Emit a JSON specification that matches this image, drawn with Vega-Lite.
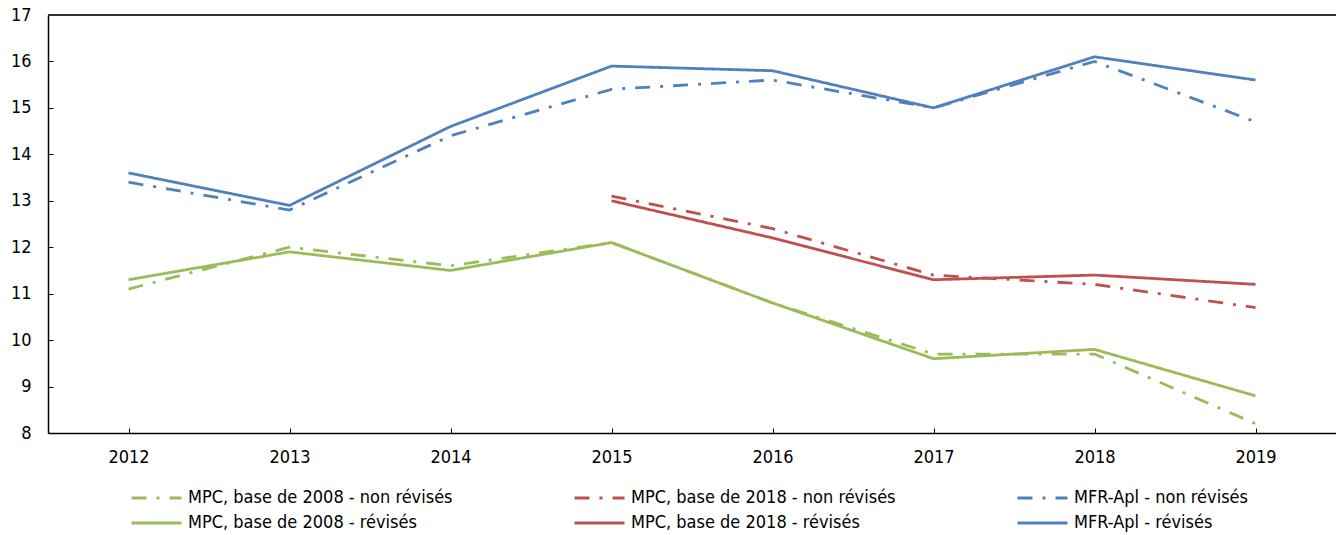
{
  "$schema": "https://vega.github.io/schema/vega-lite/v6.json",
  "autosize": {"type": "none"},
  "width": 1288,
  "height": 418,
  "padding": {"left": 48, "top": 15, "right": 0, "bottom": 102},
  "background": "white",
  "config": {
    "view": {"stroke": null},
    "font": "DejaVu Sans Condensed, Liberation Sans",
    "axis": {"labelFont": "DejaVu Sans Condensed, Liberation Sans", "labelFontSize": 18, "labelColor": "#000", "domainColor": "#000", "domainWidth": 1.5, "tickColor": "#000", "tickWidth": 1, "grid": false, "title": null}
  },
  "data": {"values": [
    {"year": "2012", "series": "MFR-Apl - révisés", "v": 13.6},
    {"year": "2013", "series": "MFR-Apl - révisés", "v": 12.9},
    {"year": "2014", "series": "MFR-Apl - révisés", "v": 14.6},
    {"year": "2015", "series": "MFR-Apl - révisés", "v": 15.9},
    {"year": "2016", "series": "MFR-Apl - révisés", "v": 15.8},
    {"year": "2017", "series": "MFR-Apl - révisés", "v": 15.0},
    {"year": "2018", "series": "MFR-Apl - révisés", "v": 16.1},
    {"year": "2019", "series": "MFR-Apl - révisés", "v": 15.6},
    {"year": "2012", "series": "MFR-Apl - non révisés", "v": 13.4},
    {"year": "2013", "series": "MFR-Apl - non révisés", "v": 12.8},
    {"year": "2014", "series": "MFR-Apl - non révisés", "v": 14.4},
    {"year": "2015", "series": "MFR-Apl - non révisés", "v": 15.4},
    {"year": "2016", "series": "MFR-Apl - non révisés", "v": 15.6},
    {"year": "2017", "series": "MFR-Apl - non révisés", "v": 15.0},
    {"year": "2018", "series": "MFR-Apl - non révisés", "v": 16.0},
    {"year": "2019", "series": "MFR-Apl - non révisés", "v": 14.7},
    {"year": "2015", "series": "MPC, base de 2018 - non révisés", "v": 13.1},
    {"year": "2016", "series": "MPC, base de 2018 - non révisés", "v": 12.4},
    {"year": "2017", "series": "MPC, base de 2018 - non révisés", "v": 11.4},
    {"year": "2018", "series": "MPC, base de 2018 - non révisés", "v": 11.2},
    {"year": "2019", "series": "MPC, base de 2018 - non révisés", "v": 10.7},
    {"year": "2015", "series": "MPC, base de 2018 - révisés", "v": 13.0},
    {"year": "2016", "series": "MPC, base de 2018 - révisés", "v": 12.2},
    {"year": "2017", "series": "MPC, base de 2018 - révisés", "v": 11.3},
    {"year": "2018", "series": "MPC, base de 2018 - révisés", "v": 11.4},
    {"year": "2019", "series": "MPC, base de 2018 - révisés", "v": 11.2},
    {"year": "2012", "series": "MPC, base de 2008 - non révisés", "v": 11.1},
    {"year": "2013", "series": "MPC, base de 2008 - non révisés", "v": 12.0},
    {"year": "2014", "series": "MPC, base de 2008 - non révisés", "v": 11.6},
    {"year": "2015", "series": "MPC, base de 2008 - non révisés", "v": 12.1},
    {"year": "2016", "series": "MPC, base de 2008 - non révisés", "v": 10.8},
    {"year": "2017", "series": "MPC, base de 2008 - non révisés", "v": 9.7},
    {"year": "2018", "series": "MPC, base de 2008 - non révisés", "v": 9.7},
    {"year": "2019", "series": "MPC, base de 2008 - non révisés", "v": 8.2},
    {"year": "2012", "series": "MPC, base de 2008 - révisés", "v": 11.3},
    {"year": "2013", "series": "MPC, base de 2008 - révisés", "v": 11.9},
    {"year": "2014", "series": "MPC, base de 2008 - révisés", "v": 11.5},
    {"year": "2015", "series": "MPC, base de 2008 - révisés", "v": 12.1},
    {"year": "2016", "series": "MPC, base de 2008 - révisés", "v": 10.8},
    {"year": "2017", "series": "MPC, base de 2008 - révisés", "v": 9.6},
    {"year": "2018", "series": "MPC, base de 2008 - révisés", "v": 9.8},
    {"year": "2019", "series": "MPC, base de 2008 - révisés", "v": 8.8}
  ]},
  "layer": [
    {
      "mark": {"type": "rule", "color": "#333", "strokeWidth": 1.5},
      "encoding": {"y": {"datum": 17, "type": "quantitative"}}
    },
    {
      "mark": {"type": "line", "strokeWidth": 2.8},
      "encoding": {
        "x": {"field": "year", "type": "ordinal", "scale": {"type": "point", "padding": 0.5},
              "axis": {"labelAngle": 0, "tickSize": -5, "labelPadding": 20, "tickColor": "#000"}},
        "y": {"field": "v", "type": "quantitative", "scale": {"domain": [8, 17], "nice": false, "zero": false},
              "axis": {"values": [8,9,10,11,12,13,14,15,16,17], "tickSize": -5, "labelPadding": 22}},
        "color": {"field": "series", "type": "nominal",
          "scale": {
            "domain": ["MPC, base de 2008 - non révisés", "MPC, base de 2018 - non révisés", "MFR-Apl - non révisés", "MPC, base de 2008 - révisés", "MPC, base de 2018 - révisés", "MFR-Apl - révisés"],
            "range": ["#9BBB59", "#C0504D", "#4F81BD", "#9BBB59", "#C0504D", "#4F81BD"]},
          "legend": {"orient": "none", "legendX": 82, "legendY": 473, "columns": 3, "direction": "horizontal", "title": null,
            "symbolType": "stroke", "symbolSize": 2500, "symbolStrokeWidth": 3, "clipHeight": 20,
            "labelFont": "DejaVu Sans Condensed, Liberation Sans", "labelFontSize": 18, "labelColor": "#000", "labelOffset": 5, "labelLimit": 400,
            "columnPadding": 120, "rowPadding": 5}},
        "strokeDash": {"field": "series", "type": "nominal",
          "scale": {
            "domain": ["MPC, base de 2008 - non révisés", "MPC, base de 2018 - non révisés", "MFR-Apl - non révisés", "MPC, base de 2008 - révisés", "MPC, base de 2018 - révisés", "MFR-Apl - révisés"],
            "range": [[15,10,3,10],[15,10,3,10],[15,10,3,10],[1,0],[1,0],[1,0]]}},
        "order": {"field": "year"}
      }
    }
  ]
}
